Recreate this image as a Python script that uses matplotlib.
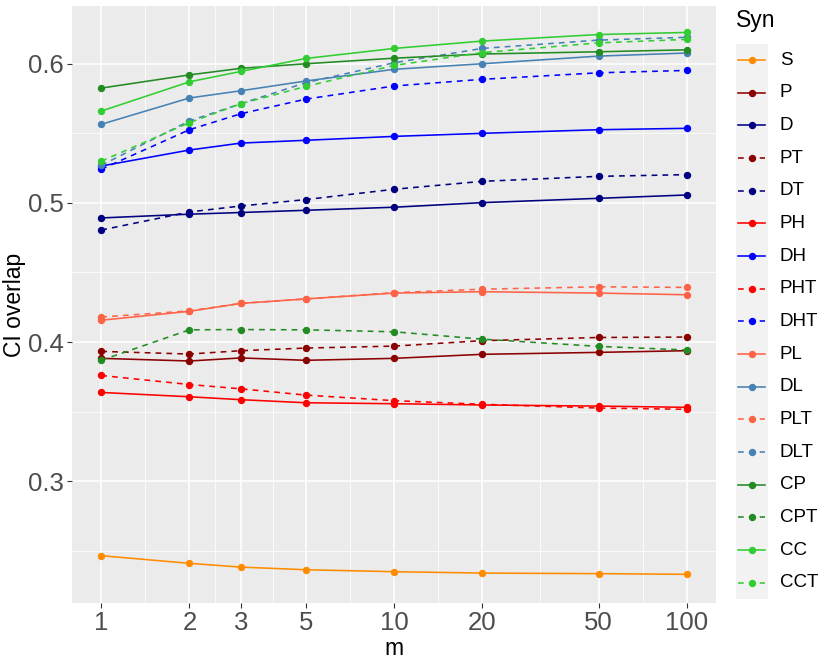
import matplotlib
matplotlib.use("Agg")
import matplotlib.pyplot as plt
import numpy as np

plt.rcParams['font.family'] = ['Liberation Sans', 'DejaVu Sans']

m = [1, 2, 3, 5, 10, 20, 50, 100]

series_names = ["S", "P", "D", "PT", "DT", "PH", "DH", "PHT", "DHT",
                "PL", "DL", "PLT", "DLT", "CP", "CPT", "CC", "CCT"]

S   = [0.2465, 0.2410, 0.2383, 0.2364, 0.2350, 0.2340, 0.2336, 0.2331]
P   = [0.3883, 0.3864, 0.3886, 0.3869, 0.3883, 0.3912, 0.3926, 0.3938]
D   = [0.4892, 0.4919, 0.4931, 0.4947, 0.4969, 0.5002, 0.5033, 0.5057]
PT  = [0.3933, 0.3914, 0.3938, 0.3957, 0.3971, 0.4010, 0.4033, 0.4036]
DT  = [0.4805, 0.4935, 0.4978, 0.5024, 0.5098, 0.5155, 0.5191, 0.5203]
PH  = [0.3638, 0.3607, 0.3586, 0.3564, 0.3557, 0.3548, 0.3540, 0.3531]
DH  = [0.5265, 0.5380, 0.5430, 0.5450, 0.5478, 0.5500, 0.5526, 0.5536]
PHT = [0.3760, 0.3695, 0.3664, 0.3619, 0.3579, 0.3553, 0.3526, 0.3517]
DHT = [0.5242, 0.5526, 0.5641, 0.5746, 0.5840, 0.5888, 0.5935, 0.5952]
PL  = [0.4157, 0.4221, 0.4278, 0.4310, 0.4352, 0.4362, 0.4352, 0.4340]
DL  = [0.5565, 0.5754, 0.5806, 0.5876, 0.5960, 0.6000, 0.6055, 0.6077]
PLT = [0.4180, 0.4224, 0.4278, 0.4310, 0.4355, 0.4380, 0.4397, 0.4393]
DLT = [0.5270, 0.5589, 0.5713, 0.5864, 0.6007, 0.6110, 0.6170, 0.6190]
CP  = [0.5825, 0.5920, 0.5967, 0.6000, 0.6040, 0.6070, 0.6086, 0.6100]
CPT = [0.3869, 0.4088, 0.4090, 0.4088, 0.4074, 0.4021, 0.3969, 0.3943]
CC  = [0.5660, 0.5870, 0.5945, 0.6038, 0.6110, 0.6163, 0.6210, 0.6225]
CCT = [0.5300, 0.5577, 0.5713, 0.5837, 0.5988, 0.6080, 0.6150, 0.6175]

values = [S, P, D, PT, DT, PH, DH, PHT, DHT, PL, DL, PLT, DLT, CP, CPT, CC, CCT]

colors = {"S": "#FF8C00", "P": "#8B0000", "D": "#000080", "PT": "#8B0000",
          "DT": "#000080", "PH": "#FF0000", "DH": "#0000FF", "PHT": "#FF0000",
          "DHT": "#0000FF", "PL": "#FF6347", "DL": "#4682B4", "PLT": "#FF6347",
          "DLT": "#4682B4", "CP": "#228B22", "CPT": "#228B22", "CC": "#32CD32",
          "CCT": "#32CD32"}
dashed = {n: n.endswith("T") for n in series_names}

xticks = [1, 2, 3, 5, 10, 20, 50, 100]
xticklabels = ["1", "2", "3", "5", "10", "20", "50", "100"]
yticks = [0.3, 0.4, 0.5, 0.6]
yticklabels = ["0.3", "0.4", "0.5", "0.6"]

W, H = 830, 664
fig = plt.figure(figsize=(W / 100, H / 100), dpi=100)
fig.patch.set_facecolor("white")

px_l, px_r, px_t, px_b = 72, 716, 6, 603
ax = fig.add_axes([px_l / W, 1 - px_b / H, (px_r - px_l) / W, (px_b - px_t) / H])
ax.set_facecolor("#EBEBEB")
for s in ax.spines.values():
    s.set_visible(False)

ax.set_xscale("log")
lw = 1.15
dash = (0, (3.6, 3.2))
for name, vals in zip(series_names, values):
    ls = dash if dashed[name] else "-"
    ax.plot(m, vals, color=colors[name], lw=lw, linestyle=ls, zorder=3)
    ax.plot(m, vals, color=colors[name], lw=0, marker="o", markersize=4.3, zorder=4)

ax.set_xlim(10 ** -0.1, 10 ** 2.1)
ax.set_ylim(0.2125, 0.6415)

ax.set_xticks(xticks)
ax.set_xticklabels(xticklabels)
minor_x = [np.sqrt(a * b) for a, b in zip(xticks[:-1], xticks[1:])]
ax.set_xticks(minor_x, minor=True)
ax.set_yticks(yticks)
ax.set_yticklabels(yticklabels)
ax.set_yticks([0.25, 0.35, 0.45, 0.55], minor=True)
ax.xaxis.set_minor_formatter(matplotlib.ticker.NullFormatter())

ax.grid(True, which="major", color="white", lw=1.1, zorder=0)
ax.grid(True, which="minor", color="white", lw=0.55, zorder=0)
ax.set_axisbelow(True)
ax.tick_params(which="major", length=3.5, width=0.8, color="#333333",
               labelsize=18.5, labelcolor="#4D4D4D", pad=2.5)
ax.tick_params(which="minor", length=0)

ax.set_xlabel("m", fontsize=16.5, color="black", labelpad=1)
ax.set_ylabel("CI overlap", fontsize=16.5, color="black", labelpad=1)

# Legend
key_top, key_step = 43.67, 32.67
key_l, key_r = 735.7, 768.3
n = len(series_names)
lax = fig.add_axes([key_l / W, 1 - (key_top + n * key_step) / H,
                    (key_r - key_l) / W, n * key_step / H])
lax.set_facecolor("#F2F2F2")
for s in lax.spines.values():
    s.set_visible(False)
lax.set_xticks([])
lax.set_yticks([])
lax.set_xlim(0, key_r - key_l)
lax.set_ylim(n, 0)
for i, name in enumerate(series_names):
    ls = dash if dashed[name] else "-"
    yc = i + 0.5
    lax.plot([2.3, 29.3], [yc, yc], color=colors[name], lw=lw, linestyle=ls)
    lax.plot([15.8], [yc], color=colors[name], marker="o", markersize=4.3, lw=0)
    lax.text(key_r - key_l + 11.5, yc, name, fontsize=13.5, color="black",
             va="center", ha="left", clip_on=False)
fig.text(key_l / W, 1 - 21 / H, "Syn", fontsize=16.5, color="black",
         va="center", ha="left")

fig.savefig("out.png", dpi=100)
